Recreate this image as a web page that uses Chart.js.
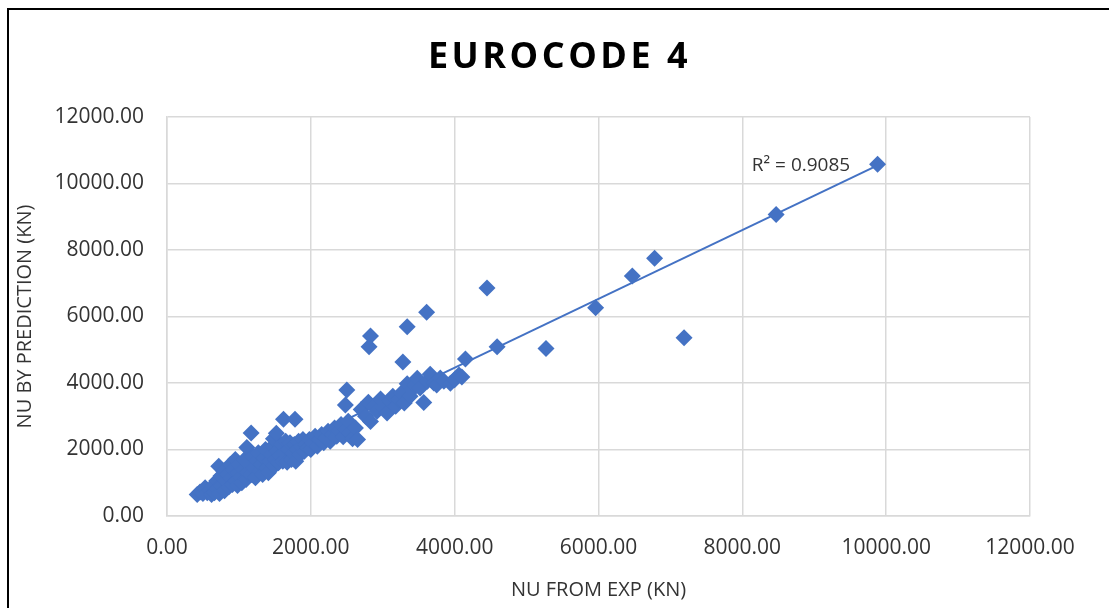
<!DOCTYPE html>
<html>
<head>
<meta charset="utf-8">
<title>Eurocode 4</title>
<script src="https://cdn.jsdelivr.net/npm/chart.js@4.4.0/dist/chart.umd.min.js"></script>
<style>
  html, body { margin: 0; padding: 0; background: #fff; }
  #wrap { position: relative; width: 1109px; height: 608px; overflow: hidden; }
  #chart { position: absolute; left: 0; top: 0; }
  #frame {
    position: absolute; left: 7px; top: 8px; width: 1200px; height: 700px;
    border-left: 2px solid #000; border-top: 2px solid #000; pointer-events: none;
  }
  #title {
    position: absolute; left: 5px; top: 30px; width: 1109px; text-align: center;
    font: bold 36px "Open Sans", sans-serif; letter-spacing: 3.5px; color: #000;
  }
</style>
</head>
<body>
<div id="wrap">
  <canvas id="chart" width="1109" height="608"></canvas>
  <div id="frame"></div>
  <div id="title">EUROCODE 4</div>
</div>
<script>
const expValues = [
  420, 460, 500, 530, 560, 600, 620, 640, 660, 690, 700, 720, 730, 750, 770, 790, 800, 820, 840, 860,
  880, 890, 910, 930, 950, 960, 980, 990, 1000,
  1020, 1040, 1060, 1080, 1100, 1110, 1120, 1140, 1170, 1180, 1190, 1210, 1230, 1250, 1270, 1290, 1310,
  1330, 1350, 1370, 1390, 1410, 1430, 1450, 1470, 1480, 1490, 1520,
  1510, 1530, 1550, 1570, 1590, 1610, 1620, 1630, 1650, 1670, 1690, 1710, 1730, 1750, 1770, 1780, 1790,
  1810, 1830, 1850, 1870, 1890, 1910, 1930, 1960, 1980, 2000,
  2030, 2060, 2090, 2120, 2150, 2180, 2210, 2240, 2270, 2300, 2330, 2360, 2390, 2420, 2450, 2480, 2490,
  2500, 2520, 2550, 2580, 2620, 2650,
  2700, 2760, 2800, 2830, 2870, 2920, 2970, 3010, 3060, 3100, 3140, 3180, 3220, 3260, 3300, 3340, 3380,
  3410, 3450, 3480, 3520, 3570, 3620, 3660, 3710, 3750, 3800, 3850, 3940, 4000, 4060, 4100,
  2830, 2810, 3280, 3340, 3610, 4450, 4150, 4590, 5270, 5960, 6470, 6780, 7190, 8470, 9880
];
const predValues = [
  650, 720, 680, 850, 700, 780, 650, 900, 700, 1050, 820, 1500, 680, 1200, 900, 1350, 760, 1050, 1250, 880,
  1550, 1150, 950, 1400, 1700, 1050, 920, 1300, 1550,
  1150, 1000, 1400, 1700, 1100, 2060, 1300, 1550, 2500, 1250, 1800, 1450, 1150, 1650, 1900, 1350, 1550,
  1250, 1750, 2000, 1450, 1300, 1650, 1850, 2100, 2320, 1500, 2490,
  1700, 1950, 1600, 1800, 2150, 1650, 2910, 1900, 2250, 1620, 2000, 2200, 1700, 1900, 2150, 2910, 1650,
  2000, 2250, 1850, 2100, 2300, 1950, 2150, 2050, 2300, 2000,
  2200, 2400, 2100, 2300, 2450, 2200, 2350, 2550, 2250, 2450, 2650, 2400, 2550, 2750, 2380, 3340, 2600,
  3790, 2850, 2500, 2320, 2650, 2300,
  3200, 3000, 3420, 2840, 3300, 3150, 3520, 3250, 3100, 3450, 3600, 3300, 3500, 3700, 3400, 3980, 3600,
  3800, 3950, 4140, 3850, 3410, 4050, 4260, 4000, 3940, 4150, 4050, 3990, 4100, 4240, 4180,
  5410, 5090, 4630, 5690, 6130, 6860, 4720, 5090, 5040, 6260, 7220, 7750, 5360, 9070, 10580
];

// linear trendline ends and its label, as shown on the chart
const trendX = [420, 9880];
const trendY = [755, 10545];
const r2Text = 'R\u00B2 = 0.9085';

const axisTicks = [0, 2000, 4000, 6000, 8000, 10000, 12000];

const blue = '#4472C4';
const gridColor = '#d9d9d9';
const textColor = '#333333';
const fontFamily = '"Open Sans", sans-serif';

const points = expValues.map((x, i) => ({ x: x, y: predValues[i] }));
const trend = trendX.map((x, i) => ({ x: x, y: trendY[i] }));

const r2Label = {
  id: 'r2Label',
  afterDatasetsDraw(chart) {
    const { ctx, scales: { x, y } } = chart;
    ctx.save();
    ctx.font = '19px ' + fontFamily;
    ctx.fillStyle = textColor;
    ctx.textAlign = 'right';
    ctx.textBaseline = 'middle';
    ctx.fillText(r2Text, x.getPixelForValue(9500), y.getPixelForValue(10540));
    ctx.restore();
  }
};

function axis(titleText, titlePadding, tickPadding, fit) {
  return {
    type: 'linear',
    min: 0,
    max: 12000,
    afterBuildTicks: s => { s.ticks = axisTicks.map(v => ({ value: v })); },
    afterFit: fit,
    ticks: {
      callback: v => v.toFixed(2),
      color: textColor,
      padding: tickPadding,
      font: { family: fontFamily, size: 21 }
    },
    grid: { color: gridColor, lineWidth: 1.5, drawTicks: false },
    border: { color: gridColor, width: 1.5 },
    title: {
      display: true,
      text: titleText,
      color: textColor,
      padding: titlePadding,
      font: { family: fontFamily, size: 20 }
    }
  };
}

new Chart(document.getElementById('chart').getContext('2d'), {
  type: 'scatter',
  data: {
    datasets: [
      {
        data: points,
        pointStyle: 'rectRot',
        pointRadius: 8.5,
        pointHoverRadius: 8.5,
        backgroundColor: blue,
        borderColor: blue,
        borderWidth: 0
      },
      {
        data: trend,
        showLine: true,
        pointRadius: 0,
        borderColor: blue,
        borderWidth: 2
      }
    ]
  },
  options: {
    responsive: false,
    animation: false,
    layout: { padding: { left: 0, top: 117, right: 79, bottom: 0 } },
    plugins: {
      legend: { display: false },
      tooltip: { enabled: false }
    },
    scales: {
      x: axis('NU FROM EXP (KN)', { top: 0, bottom: 6 }, 19, s => { s.height = 92; }),
      y: axis('NU BY PREDICTION (KN)', { top: 13, bottom: 0 }, 23, s => { s.width = 167; })
    }
  },
  plugins: [r2Label]
});
</script>
</body>
</html>
